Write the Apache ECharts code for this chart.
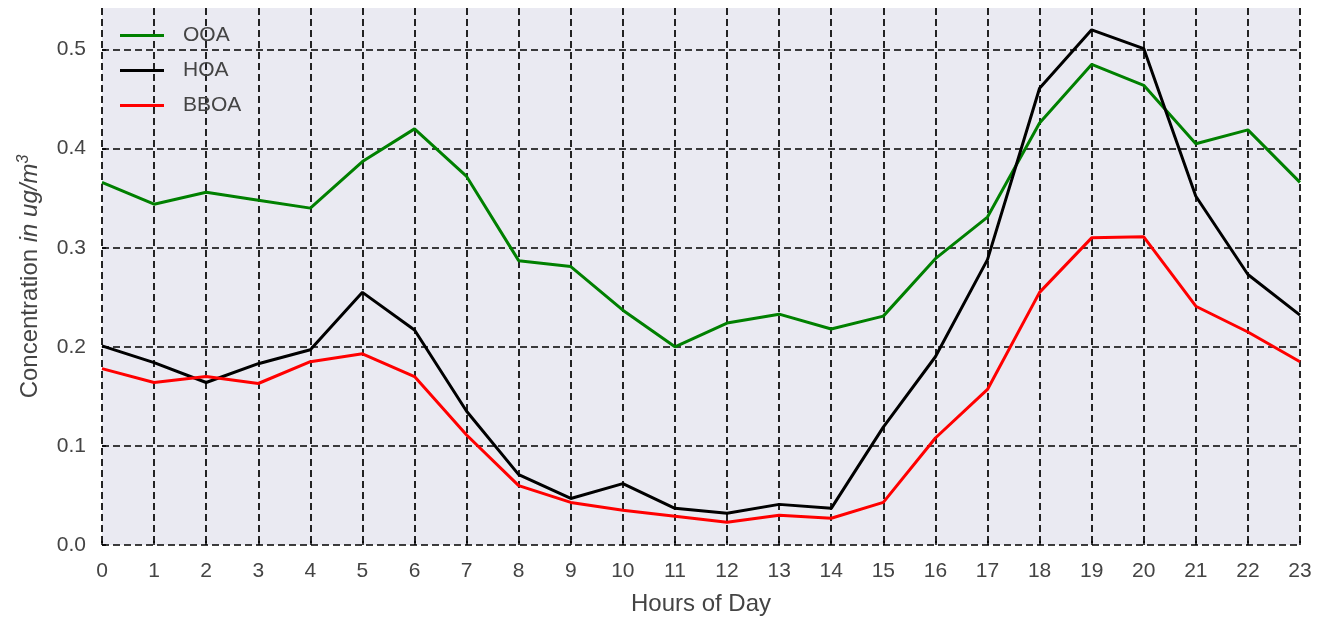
<!DOCTYPE html>
<html>
<head>
<meta charset="utf-8">
<script src="https://cdn.jsdelivr.net/npm/echarts@6/dist/echarts.min.js"></script>
<style>
html,body{margin:0;padding:0;background:#fff;}
#chart{width:1330px;height:624px;}
</style>
</head>
<body>
<div id="chart"></div>
<script>
var hours = ['0','1','2','3','4','5','6','7','8','9','10','11','12','13','14','15','16','17','18','19','20','21','22','23'];
var ooa  = [0.366,0.344,0.356,0.348,0.340,0.387,0.420,0.372,0.287,0.281,0.237,0.200,0.224,0.233,0.218,0.231,0.289,0.331,0.426,0.485,0.464,0.405,0.419,0.366];
var hoa  = [0.201,0.184,0.164,0.183,0.197,0.255,0.217,0.135,0.071,0.047,0.062,0.037,0.032,0.041,0.037,0.119,0.190,0.288,0.461,0.520,0.501,0.352,0.273,0.232];
var bboa = [0.178,0.164,0.170,0.163,0.185,0.193,0.170,0.111,0.060,0.043,0.035,0.029,0.023,0.030,0.027,0.043,0.108,0.157,0.255,0.310,0.311,0.241,0.215,0.185];
var seriesNames = ['OOA','HOA','BBOA'];
var yTicks = [0.0,0.1,0.2,0.3,0.4,0.5];

var font = 'Liberation Sans, Arial, sans-serif';
var txt = '#444444';
var chart = echarts.init(document.getElementById('chart'));
var grid = ['#000','#000','#000','#000','#000','#000','rgba(0,0,0,0)'];
chart.setOption({
  animation:false,
  grid:{left:102,right:30,top:8,bottom:79,show:true,backgroundColor:'#EAEAF2',borderWidth:0},
  legend:{
    orient:'vertical',left:115,top:20,itemWidth:44,itemHeight:20,itemGap:14,
    icon:'path://M0,8.6 L44,8.6 L44,11.4 L0,11.4 Z',
    textStyle:{fontFamily:font,fontSize:21,color:txt,padding:[0,0,0,14]},
    data:seriesNames
  },
  xAxis:{
    type:'category',data:hours,boundaryGap:false,
    name:'Hours of Day',nameLocation:'middle',nameGap:47,
    nameTextStyle:{fontFamily:font,fontSize:24,color:txt},
    axisLine:{show:false},
    axisTick:{show:true,inside:true,length:4,lineStyle:{color:'#000',width:1.5}},
    axisLabel:{fontFamily:font,fontSize:21,color:txt,margin:16},
    splitLine:{show:true,lineStyle:{color:'#000',type:[7,4],width:1.7}}
  },
  yAxis:{
    type:'value',min:0,max:0.542,interval:0.1,
    name:'Concentration {i|in ug/m}{s|3}',nameLocation:'middle',nameGap:58,nameRotate:90,
    nameTextStyle:{fontFamily:font,fontSize:24,color:txt,
      rich:{i:{fontFamily:font,fontSize:24,fontStyle:'italic',color:txt},
            s:{fontFamily:font,fontSize:16,fontStyle:'italic',color:txt,verticalAlign:'top',padding:[0,0,12,0]}}},
    axisLine:{show:false},
    axisTick:{show:true,inside:true,length:4,lineStyle:{color:'#000',width:1.5}},
    axisLabel:{fontFamily:font,fontSize:21,color:txt,margin:16,showMaxLabel:false,
      formatter:function(v){return yTicks.indexOf(Math.round(v*10)/10)>=0 && Math.abs(v*10-Math.round(v*10))<1e-6 ? v.toFixed(1) : '';}},
    splitLine:{show:true,lineStyle:{color:grid,type:[7,4],width:1.7}}
  },
  series:[
    {name:'OOA',type:'line',data:ooa,showSymbol:false,lineStyle:{color:'#008000',width:3},itemStyle:{color:'#008000'}},
    {name:'HOA',type:'line',data:hoa,showSymbol:false,lineStyle:{color:'#000000',width:3},itemStyle:{color:'#000000'}},
    {name:'BBOA',type:'line',data:bboa,showSymbol:false,lineStyle:{color:'#ff0000',width:3},itemStyle:{color:'#ff0000'}}
  ]
});
</script>
</body>
</html>
